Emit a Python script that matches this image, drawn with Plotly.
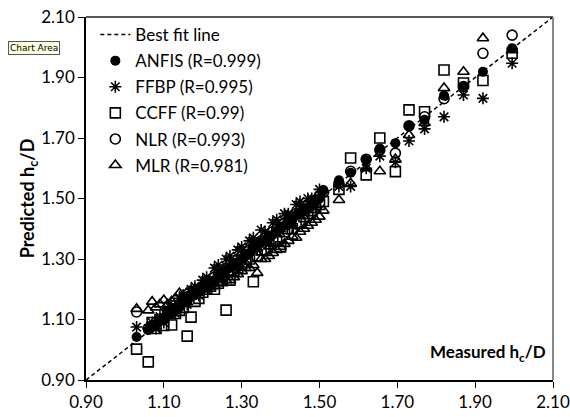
import plotly.graph_objects as go

measured = [1.03, 1.06, 1.07, 1.08, 1.09, 1.10, 1.11, 1.12, 1.13, 1.14,
            1.15, 1.16, 1.17, 1.18, 1.19, 1.20, 1.21, 1.22, 1.23, 1.24,
            1.25, 1.26, 1.27, 1.28, 1.29, 1.30, 1.31, 1.32, 1.33, 1.34,
            1.35, 1.36, 1.37, 1.38, 1.39, 1.40, 1.41, 1.42, 1.43, 1.44,
            1.45, 1.46, 1.47, 1.48, 1.49, 1.50, 1.51, 1.55, 1.58, 1.62,
            1.655, 1.695, 1.73, 1.77, 1.82, 1.87, 1.92, 1.995]

anfis = [1.042, 1.065, 1.075, 1.085, 1.095, 1.10, 1.115, 1.12, 1.135, 1.14,
         1.155, 1.16, 1.175, 1.18, 1.195, 1.20, 1.21, 1.225, 1.23, 1.245,
         1.25, 1.265, 1.27, 1.285, 1.29, 1.30, 1.315, 1.32, 1.335, 1.34,
         1.355, 1.36, 1.375, 1.38, 1.39, 1.405, 1.41, 1.425, 1.43, 1.445,
         1.45, 1.465, 1.47, 1.48, 1.495, 1.50, 1.528, 1.56, 1.585, 1.627,
         1.665, 1.683, 1.74, 1.76, 1.84, 1.872, 1.919, 1.997]

ffbp = [1.075, 1.07, 1.09, 1.07, 1.11, 1.09, 1.13, 1.14, 1.12, 1.17,
        1.18, 1.15, 1.20, 1.21, 1.18, 1.23, 1.24, 1.21, 1.27, 1.28,
        1.24, 1.30, 1.31, 1.27, 1.33, 1.34, 1.30, 1.36, 1.37, 1.33,
        1.396, 1.39, 1.35, 1.42, 1.43, 1.39, 1.45, 1.45, 1.41, 1.48,
        1.49, 1.45, 1.50, 1.50, 1.47, 1.53, 1.52, 1.54, 1.54, 1.60,
        1.64, 1.62, 1.69, 1.73, 1.77, 1.842, 1.831, 1.947]

ccff = [1.002, 0.96, 1.09, 1.07, 1.10, 1.08, 1.12, 1.082, 1.12, 1.13,
        1.14, 1.045, 1.108, 1.16, 1.17, 1.19, 1.20, 1.21, 1.20, 1.22,
        1.23, 1.131, 1.23, 1.26, 1.27, 1.28, 1.29, 1.30, 1.225, 1.31,
        1.33, 1.33, 1.35, 1.36, 1.36, 1.34, 1.39, 1.40, 1.40, 1.42,
        1.42, 1.44, 1.45, 1.46, 1.47, 1.48, 1.49, 1.53, 1.634, 1.578,
        1.70, 1.589, 1.793, 1.787, 1.925, 1.882, 1.89, 1.98]

nlr = [1.125, 1.07, 1.08, 1.09, 1.10, 1.105, 1.12, 1.13, 1.135, 1.15,
       1.16, 1.165, 1.18, 1.19, 1.195, 1.21, 1.22, 1.225, 1.24, 1.25,
       1.255, 1.27, 1.28, 1.285, 1.30, 1.31, 1.315, 1.33, 1.34, 1.345,
       1.36, 1.37, 1.375, 1.39, 1.40, 1.405, 1.42, 1.43, 1.435, 1.45,
       1.46, 1.465, 1.48, 1.49, 1.495, 1.51, 1.52, 1.55, 1.59, 1.63,
       1.66, 1.65, 1.74, 1.77, 1.83, 1.87, 1.98, 2.04]

mlr = [1.135, 1.13, 1.159, 1.14, 1.15, 1.164, 1.15, 1.16, 1.17, 1.187,
       1.18, 1.19, 1.19, 1.20, 1.20, 1.21, 1.20, 1.21, 1.21, 1.22,
       1.22, 1.23, 1.23, 1.24, 1.25, 1.26, 1.27, 1.27, 1.28, 1.254,
       1.30, 1.30, 1.31, 1.32, 1.33, 1.34, 1.35, 1.36, 1.374, 1.37,
       1.39, 1.40, 1.41, 1.42, 1.43, 1.44, 1.46, 1.495, 1.55, 1.60,
       1.59, 1.63, 1.71, 1.75, 1.865, 1.919, 2.03, 1.99]

fit_line = [0.90, 2.10]
tick_vals = [0.90, 1.10, 1.30, 1.50, 1.70, 1.90, 2.10]
tick_text = ["0.90", "1.10", "1.30", "1.50", "1.70", "1.90", "2.10"]

FONT = "Lato, 'Open Sans', sans-serif"

fig = go.Figure()
fig.add_trace(go.Scatter(x=fit_line, y=fit_line, mode="lines", name="Best fit line",
                         legendgroup="g0",
                         line=dict(color="black", width=1.5, dash="4px,3px")))

series = [
    ("ANFIS (R=0.999)", anfis, "circle", 10, 0),
    ("FFBP (R=0.995)", ffbp, "asterisk-open", 10, 1.6),
    ("CCFF (R=0.99)", ccff, "square-open", 10, 1.6),
    ("NLR (R=0.993)", nlr, "circle-open", 10, 1.6),
    ("MLR (R=0.981)", mlr, "triangle-up-open", 10, 1.6),
]
for i, (name, vals, sym, sz, lw) in enumerate(series):
    fig.add_trace(go.Scatter(
        x=measured, y=vals, mode="markers", name=name, legendgroup="g%d" % (i + 1),
        marker=dict(symbol=sym, size=sz, color="black",
                    line=dict(color="black", width=lw))))

axis_common = dict(range=[0.90, 2.10], tickmode="array", tickvals=tick_vals,
                   ticktext=tick_text, showgrid=False, zeroline=False,
                   showline=True, linecolor="black", linewidth=1.5,
                   ticks="outside", ticklen=6, tickcolor="black", tickwidth=1,
                   automargin=False, ticklabeloverflow="allow",
                   tickfont=dict(family=FONT, size=17, color="black"))

fig.update_xaxes(**axis_common)
fig.update_yaxes(**axis_common,
                 title=dict(text="<b>Predicted h<sub>c</sub>/D</b>",
                            font=dict(family=FONT, size=18, color="black"),
                            standoff=2))

fig.update_layout(
    width=570, height=417,
    margin=dict(l=86, r=17, t=17, b=37),
    paper_bgcolor="white", plot_bgcolor="white",
    font=dict(family=FONT, color="black"),
    showlegend=True,
    legend=dict(x=0.02, y=1.0, xanchor="left", yanchor="top",
                bgcolor="rgba(0,0,0,0)", borderwidth=0,
                font=dict(family=FONT, size=17, color="black"),
                traceorder="grouped", tracegroupgap=1, itemwidth=30),
    shapes=[
        dict(type="line", xref="paper", yref="paper", x0=0, x1=1, y0=1, y1=1,
             line=dict(color="#222222", width=1.5)),
        dict(type="line", xref="paper", yref="paper", x0=1, x1=1, y0=0, y1=1,
             line=dict(color="#888888", width=2)),
    ],
    annotations=[
        dict(text="<b>Measured h<sub>c</sub>/D</b>", xref="paper", yref="paper",
             x=0.99, y=0.035, xanchor="right", yanchor="bottom", showarrow=False,
             font=dict(family=FONT, size=17, color="black")),
        dict(text="Chart Area", xref="paper", yref="paper",
             x=-0.167, y=0.915, xanchor="left", yanchor="middle", showarrow=False,
             font=dict(family="DejaVu Sans", size=9, color="black"),
             bgcolor="#ffffe1", bordercolor="#555555", borderwidth=1, borderpad=1),
    ],
)

# remove the default 8px page margin so the figure fills the window exactly
fig.write_html("out.html",
               config={"displayModeBar": False},
               post_script="document.body.style.margin='0';"
                           "document.body.style.overflow='hidden';")
